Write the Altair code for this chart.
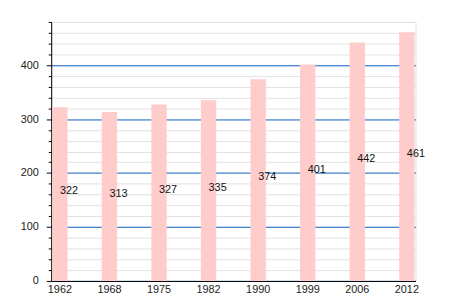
import altair as alt
import pandas as pd

years = ["1962", "1968", "1975", "1982", "1990", "1999", "2006", "2012"]
values = [322, 313, 327, 335, 374, 401, 442, 461]

df = pd.DataFrame({"year": years, "value": values})

font = "Liberation Sans"

yaxis = alt.Axis(
    values=list(range(0, 481, 20)),
    tickCount=40,
    labelOverlap=False,
    labelExpr="datum.value % 100 === 0 ? datum.label : ''",
    gridColor=alt.condition("datum.value % 100 === 0", alt.value("#0a5cc0"), alt.value("#e2e2e2")),
    tickSize=alt.condition("datum.value % 100 === 0", alt.value(5), alt.value(3)),
    domainColor="black",
    tickColor="black",
    labelFont=font,
    labelFontSize=11,
    labelColor="#222",
    labelPadding=8,
    title=None,
)

base = alt.Chart(df).encode(
    x=alt.X(
        "year:N",
        sort=years,
        scale=alt.Scale(paddingInner=0.69, paddingOuter=0.02),
        axis=alt.Axis(
            labelAngle=0,
            ticks=False,
            grid=False,
            domainColor="black",
            labelFont=font,
            labelFontSize=11,
            labelColor="#222",
            labelPadding=3,
            title=None,
        ),
    )
)

bars = base.mark_bar(color="#ffcccc").encode(
    y=alt.Y("value:Q", scale=alt.Scale(domain=[0, 480], nice=False), axis=yaxis)
)

labels = base.transform_calculate(half="datum.value / 2").mark_text(
    align="left", baseline="middle", dy=-3, font=font, fontSize=11, color="#111"
).encode(
    y=alt.Y("half:Q"),
    text=alt.Text("value:Q"),
)

chart = alt.layer(bars, labels).properties(
    width=370,
    height=263,
    padding={"left": 20, "top": 14, "right": 25, "bottom": 0},
).configure_view(stroke=None).configure(background="white")

chart.save("out.html", embed_options={"renderer": "svg", "actions": False})
